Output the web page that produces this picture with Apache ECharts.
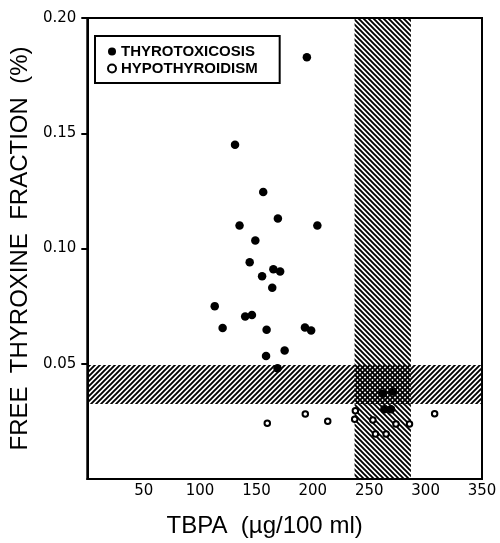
<!DOCTYPE html>
<html>
<head>
<meta charset="utf-8">
<script src="https://cdn.jsdelivr.net/npm/echarts@6/dist/echarts.min.js"></script>
<style>
  html, body { margin: 0; padding: 0; background: #fff; }
  #chart { width: 500px; height: 543px; }
</style>
</head>
<body>
<div id="chart"></div>
<script>
// TBPA (x) vs free thyroxine fraction (y)
const thyrotoxicosis = [
  [194.7, 0.183], [131, 0.145], [156, 0.1245], [169, 0.113], [135, 0.110],
  [204, 0.110], [149, 0.1035], [144, 0.094], [165, 0.091], [171, 0.090],
  [155, 0.088], [164, 0.083], [113, 0.075], [140, 0.0705], [146, 0.0712],
  [120, 0.0655], [159, 0.0647], [193, 0.0657], [198.5, 0.0644], [158.5, 0.0534],
  [175, 0.0558], [168.7, 0.048], [262, 0.037], [271, 0.038], [263.4, 0.0303],
  [269.3, 0.0303]
];
const hypothyroidism = [
  [159.6, 0.0242], [193.3, 0.0282], [213.2, 0.0251], [237.7, 0.0296],
  [237.1, 0.0259], [253.2, 0.0256], [273.7, 0.0239], [285.7, 0.0239],
  [308, 0.0283], [255.5, 0.0195], [265, 0.0195]
];
// normal ranges
const normalFraction = [0.0325, 0.0495];
const normalTbpa = [237, 287];
const xTicks = [50, 100, 150, 200, 250, 300, 350];
const yTicks = [0.05, 0.10, 0.15, 0.20];

function hatch(dir) {
  const s = 5;
  const c = document.createElement("canvas");
  c.width = s; c.height = s;
  const ctx = c.getContext("2d");
  ctx.strokeStyle = "#000";
  ctx.lineWidth = 1.9;
  ctx.beginPath();
  if (dir === "/") {
    ctx.moveTo(-1, s + 1); ctx.lineTo(s + 1, -1);
    ctx.moveTo(-1, 1); ctx.lineTo(1, -1);
    ctx.moveTo(s - 1, s + 1); ctx.lineTo(s + 1, s - 1);
  } else {
    ctx.moveTo(-1, -1); ctx.lineTo(s + 1, s + 1);
    ctx.moveTo(s - 1, -1); ctx.lineTo(s + 1, 1);
    ctx.moveTo(-1, s - 1); ctx.lineTo(1, s + 1);
  }
  ctx.stroke();
  return c;
}

const chart = echarts.init(document.getElementById("chart"));

const option = {
  animation: false,
  grid: {
    left: 83, right: 18, top: 18, bottom: 58,
    show: true, borderColor: "#000", borderWidth: 2
  },
  legend: {
    left: 95, top: 36,
    orient: "vertical",
    padding: [8, 22, 7, 12],
    itemGap: 2,
    itemWidth: 8, itemHeight: 8,
    borderColor: "#000", borderWidth: 2,
    textStyle: { fontFamily: "Liberation Sans", fontWeight: "bold", fontSize: 15, color: "#000" },
    data: [
      { name: "THYROTOXICOSIS", icon: "circle", itemStyle: { color: "#000", borderWidth: 0 } },
      { name: "HYPOTHYROIDISM", icon: "circle", itemStyle: { color: "#fff", borderColor: "#000", borderWidth: 2 } }
    ]
  },
  xAxis: {
    type: "value", min: 0, max: 350, interval: 50,
    name: "TBPA  (µg/100 ml)",
    nameLocation: "middle", nameGap: 35,
    nameTextStyle: { fontFamily: "Liberation Sans", fontSize: 24, color: "#000", padding: [0, 40, 0, 0] },
    axisLine: { lineStyle: { color: "#000", width: 2 } },
    axisTick: { show: false },
    axisLabel: {
      customValues: xTicks, margin: 5,
      fontFamily: "DejaVu Sans", fontSize: 15, color: "#000"
    },
    splitLine: { show: false }
  },
  yAxis: {
    type: "value", min: 0, max: 0.2, interval: 0.05,
    name: "FREE  THYROXINE  FRACTION  (%)",
    nameLocation: "middle", nameGap: 51,
    nameTextStyle: { fontFamily: "Liberation Sans", fontSize: 24, color: "#000" },
    axisLine: { lineStyle: { color: "#000", width: 2 } },
    axisTick: { customValues: yTicks, length: 6, lineStyle: { color: "#000", width: 2 } },
    axisLabel: {
      customValues: yTicks, margin: 11,
      fontFamily: "DejaVu Sans", fontSize: 15, color: "#000",
      formatter: v => v.toFixed(2)
    },
    splitLine: { show: false }
  },
  series: [
    {
      name: "ranges", type: "scatter", data: [], z: 1, silent: true,
      markArea: {
        silent: true,
        label: { show: false },
        data: [
          [
            { coord: [0, normalFraction[0]], itemStyle: { color: { image: hatch("/"), repeat: "repeat" } } },
            { coord: [350, normalFraction[1]] }
          ],
          [
            { coord: [normalTbpa[0], 0], itemStyle: { color: { image: hatch("\\"), repeat: "repeat" } } },
            { coord: [normalTbpa[1], 0.2] }
          ]
        ]
      }
    },
    {
      name: "THYROTOXICOSIS", type: "scatter", z: 3,
      symbol: "circle", symbolSize: 8.5,
      itemStyle: { color: "#000", opacity: 1 },
      data: thyrotoxicosis
    },
    {
      name: "HYPOTHYROIDISM", type: "scatter", z: 3,
      symbol: "circle", symbolSize: 5.5,
      itemStyle: { color: "#fff", borderColor: "#000", borderWidth: 2, opacity: 1 },
      data: hypothyroidism
    }
  ]
};

chart.setOption(option);
</script>
</body>
</html>
